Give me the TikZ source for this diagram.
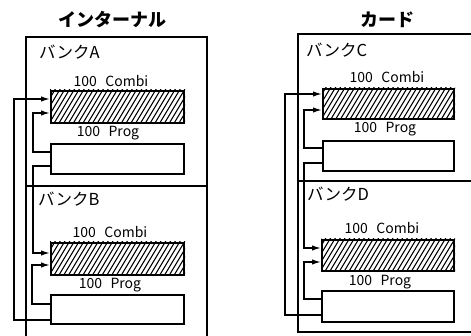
\documentclass[tikz,border=0pt]{standalone}
\usepackage{fontspec}
\setmainfont{Noto Sans CJK JP}
\usetikzlibrary{arrows.meta}
\newcommand\hatchbox[1]{%
  \begin{scope}
    \clip (#1.south west) rectangle (#1.north east);
    \foreach \i in {0,4.8,...,180}
      \draw[line width=1.1pt] ([xshift={(\i-30)*1pt}]#1.south west) -- ++(24,-40);
  \end{scope}}
\begin{document}
\begin{tikzpicture}[x=1pt,y=-1pt,
  frame/.style={line width=1.3pt},
  box/.style={draw, line width=2pt, inner sep=0pt, anchor=north west, minimum width=133pt},
  wire/.style={line width=1.5pt, -{Latex[length=9pt,width=5.5pt]}},
  lab/.style={font=\fontsize{16.5}{17}\selectfont, anchor=base west, inner sep=0pt},
  captxt/.style={font=\fontsize{14}{15}\selectfont, anchor=base, inner sep=0pt},
  ttl/.style={font=\bfseries\fontsize{18}{19}\selectfont, anchor=base, inner sep=0pt}]
\useasboundingbox (0,0) rectangle (471,336);
% titles
\node[ttl] (t1) at (112.5,27) {インターナル};
\node[ttl] (t2) at (387,27) {カード};
% left frame
\draw[frame] (26,336) -- (26,37) -- (207,37) -- (207,336);
\draw[frame] (26,186) -- (207,186);
% right frame
\draw[frame] (471,34) -- (298,34) -- (298,332) -- (471,332);
\draw[frame] (298,181) -- (471,181);
% labels
\node[lab] (bA) at (39,59) {バンクA};
\node[lab] (bB) at (38,206) {バンクB};
\node[lab] (bC) at (306,57) {バンクC};
\node[lab] (bD) at (307,201) {バンクD};
\node[captxt] (cA) at (111,87) {100\hspace{0.6em}Combi};
\node[captxt] (pA) at (108,137) {100\hspace{0.6em}Prog};
\node[captxt] (cB) at (110,238) {100\hspace{0.6em}Combi};
\node[captxt] (pB) at (110,289) {100\hspace{0.6em}Prog};
\node[captxt] (cC) at (387,83) {100\hspace{0.6em}Combi};
\node[captxt] (pC) at (385,133) {100\hspace{0.6em}Prog};
\node[captxt] (cD) at (382,234) {100\hspace{0.6em}Combi};
\node[captxt] (pD) at (380,286) {100\hspace{0.6em}Prog};
% boxes
\node[box, minimum height=32pt] (combiA) at (50,90) {};
\node[box, minimum height=30pt] (progA) at (50,143) {};
\node[box, minimum height=32pt] (combiB) at (50,242) {};
\node[box, minimum height=29pt] (progB) at (50,294) {};
\node[box, minimum width=131pt, minimum height=30pt] (combiC) at (322,88) {};
\node[box, minimum width=131pt, minimum height=30pt] (progC) at (322,140) {};
\node[box, minimum width=132pt, minimum height=31pt] (combiD) at (321,239) {};
\node[box, minimum width=132pt, minimum height=31pt] (progD) at (321,290) {};
\hatchbox{combiA}\hatchbox{combiB}\hatchbox{combiC}\hatchbox{combiD}
% left wires
\draw[wire] ([yshift=-9pt]progA.north west) -- ++(-17,0) |- ([yshift=-23pt]combiA.north west);
\draw[wire] ([yshift=-23pt]progA.north west) -- ++(-17,0) |- ([yshift=-11pt]combiB.north west);
\draw[wire] ([yshift=-10pt]progB.north west) -- ++(-18,0) |- ([yshift=-23pt]combiB.north west);
\draw[wire] ([yshift=-26pt]progB.north west) -- ++(-36,0) |- ([yshift=-9pt]combiA.north west);
% right wires
\draw[wire] ([yshift=-8pt]progC.north west) -- ++(-18,0) |- ([yshift=-22pt]combiC.north west);
\draw[wire] ([yshift=-23pt]progC.north west) -- ++(-18,0) |- ([yshift=-9pt]combiD.north west);
\draw[wire] ([yshift=-9pt]progD.north west) -- ++(-17,0) |- ([yshift=-23pt]combiD.north west);
\draw[wire] ([yshift=-25pt]progD.north west) -- ++(-36,0) |- ([yshift=-6pt]combiC.north west);
\end{tikzpicture}
\end{document}
